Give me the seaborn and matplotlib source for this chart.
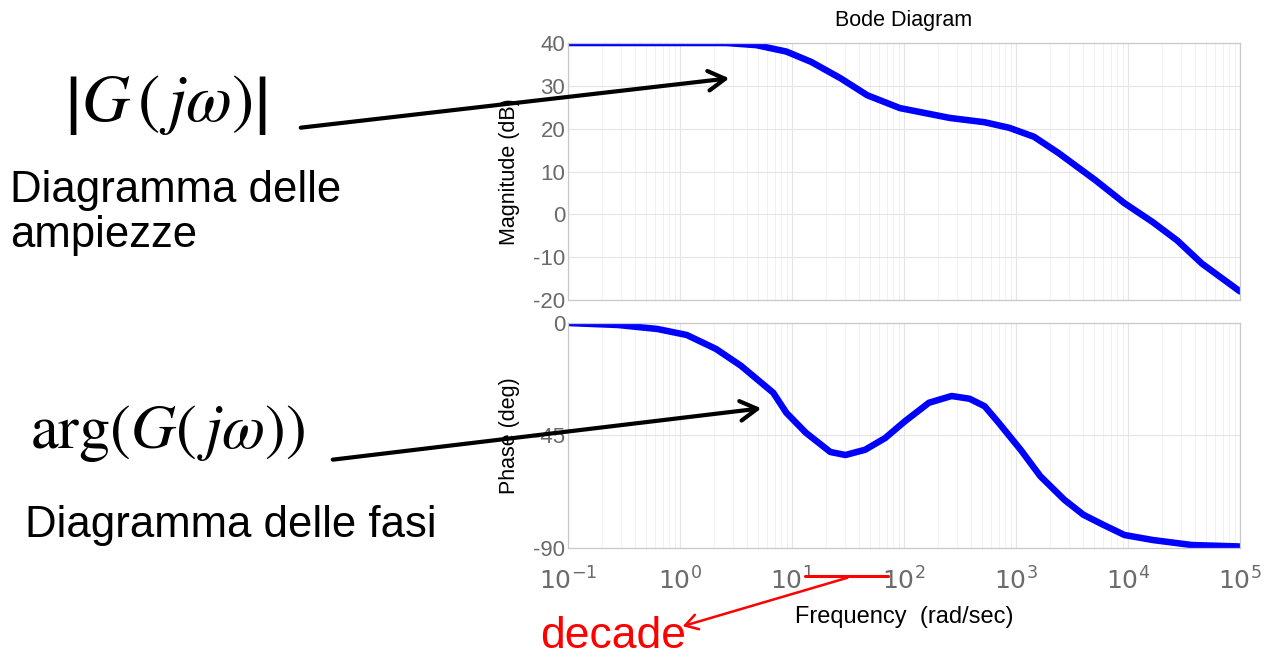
import numpy as np
import pandas as pd
import seaborn as sns
import matplotlib
matplotlib.use("Agg")
import matplotlib.pyplot as plt
from matplotlib.patches import FancyArrowPatch
from matplotlib.ticker import LogLocator, NullFormatter

freq_mag = [0.1, 0.5, 1.0, 2.6, 4.8, 8.9, 14.8, 27, 47, 92, 257, 525, 871,
            1450, 2400, 5100, 9300, 16600, 27500, 45700, 100000]
mag_db = [40, 40, 40, 40, 39.5, 38, 35.6, 31.8, 27.8, 24.8, 22.5, 21.5, 20.2,
          18.1, 14.3, 8.0, 2.6, -1.8, -6.1, -11.5, -18.0]

freq_ph = [0.1, 0.28, 0.63, 1.15, 2.1, 3.5, 6.8, 8.9, 13.3, 22, 30, 45, 68,
           102, 167, 266, 385, 525, 700, 1100, 1650, 2700, 4000, 6000, 9300,
           16600, 37000, 100000]
phase_deg = [0, -0.8, -2.4, -4.8, -10.4, -17.1, -27.9, -35.9, -43.9, -51.6,
             -52.8, -50.7, -46, -39.3, -31.9, -29.2, -30.3, -33.3, -39.9,
             -50.7, -61.3, -70.7, -76.7, -80.7, -84.8, -86.8, -88.8, -89.4]

mag_ticks = [40, 30, 20, 10, 0, -10, -20]
phase_ticks = [0, -45, -90]
x_ticks = [0.1, 1, 10, 100, 1000, 10000, 100000]
x_labels = [r"$10^{-1}$", r"$10^{0}$", r"$10^{1}$", r"$10^{2}$",
            r"$10^{3}$", r"$10^{4}$", r"$10^{5}$"]

sns.set_style("white")
plt.rcParams["font.family"] = ["Liberation Sans", "DejaVu Sans"]
plt.rcParams["axes.unicode_minus"] = False

W, H = 1264, 657
fig = plt.figure(figsize=(W / 100, H / 100), dpi=100)


def fx(x):
    return x / W


def fy(y):
    return 1 - y / H


ax1 = fig.add_axes([fx(568), fy(300), fx(1240 - 568), (300 - 43) / H])
ax2 = fig.add_axes([fx(568), fy(548), fx(1240 - 568), (548 - 323) / H])

df_mag = pd.DataFrame({"f": freq_mag, "m": mag_db})
df_ph = pd.DataFrame({"f": freq_ph, "p": phase_deg})
sns.lineplot(data=df_mag, x="f", y="m", ax=ax1, color="#0000ff", linewidth=4.7)
sns.lineplot(data=df_ph, x="f", y="p", ax=ax2, color="#0000ff", linewidth=4.7)

tick_gray = "#6a6a6a"
for ax in (ax1, ax2):
    ax.set_xscale("log")
    ax.set_xlim(0.1, 100000)
    ax.xaxis.set_major_locator(LogLocator(base=10, numticks=10))
    ax.xaxis.set_minor_locator(LogLocator(base=10, subs=np.arange(2, 10), numticks=100))
    ax.xaxis.set_minor_formatter(NullFormatter())
    ax.grid(True, which="major", color="#e4e4e4", linewidth=0.8)
    ax.grid(True, which="minor", axis="x", color="#efefef", linewidth=0.6)
    for s in ax.spines.values():
        s.set_color("#c8c8c8")
        s.set_linewidth(0.9)
    ax.tick_params(axis="both", which="both", length=0, colors=tick_gray, pad=2)
    ax.set_xlabel("")

ax1.set_ylim(-20, 40)
ax1.set_yticks(mag_ticks)
ax1.set_xticklabels([])
ax1.tick_params(axis="y", labelsize=16)
ax1.set_ylabel("Magnitude (dB)", fontsize=15.5, color="black")
ax1.yaxis.set_label_coords(-0.071, 0.5)
ax1.set_title("Bode Diagram", fontsize=15.5, color="black", pad=12)

ax2.set_ylim(-90, 0)
ax2.set_yticks(phase_ticks)
ax2.tick_params(axis="y", labelsize=16)
ax2.set_xticks(x_ticks)
ax2.set_xticklabels(x_labels, fontsize=18, color=tick_gray)
ax2.tick_params(axis="x", pad=14)
ax2.set_ylabel("Phase (deg)", fontsize=15.5, color="black")
ax2.yaxis.set_label_coords(-0.071, 0.5)
ax2.set_xlabel("Frequency  (rad/sec)", fontsize=17, color="black", labelpad=8)

# testo e frecce a sinistra
fig.text(fx(64), fy(105), r"$\left|G\,(\,j\omega)\right|$", fontsize=48,
         va="center", ha="left", math_fontfamily="stix", color="black")
fig.text(fx(10), fy(213), "Diagramma delle\nampiezze", fontsize=31.5,
         va="center", ha="left", linespacing=1.12, color="black")
fig.text(fx(30), fy(433), r"$\mathrm{arg}(G(\,j\omega))$", fontsize=45,
         va="center", ha="left", math_fontfamily="stix", color="black")
fig.text(fx(25), fy(526), "Diagramma delle fasi", fontsize=31.5,
         va="center", ha="left", color="black")

arrow_k = dict(arrowstyle="->,head_length=0.55,head_width=0.32",
               color="black", lw=3.0, mutation_scale=22)
fig.add_artist(FancyArrowPatch((fx(298), fy(128)), (fx(732), fy(78)),
                               transform=fig.transFigure, **arrow_k))
fig.add_artist(FancyArrowPatch((fx(330), fy(460)), (fx(764), fy(408)),
                               transform=fig.transFigure, **arrow_k))

# decade
fig.add_artist(plt.Line2D([fx(805), fx(888)], [fy(576), fy(576)],
                          transform=fig.transFigure, color="red", lw=2.2))
fig.add_artist(FancyArrowPatch((fx(850), fy(577)), (fx(680), fy(627)),
                               transform=fig.transFigure,
                               arrowstyle="->,head_length=0.5,head_width=0.3",
                               mutation_scale=18, color="red", lw=1.8))
fig.text(fx(540), fy(636), "decade", fontsize=32, color="red",
         va="center", ha="left")

fig.savefig("out.png", dpi=100, facecolor="white")
